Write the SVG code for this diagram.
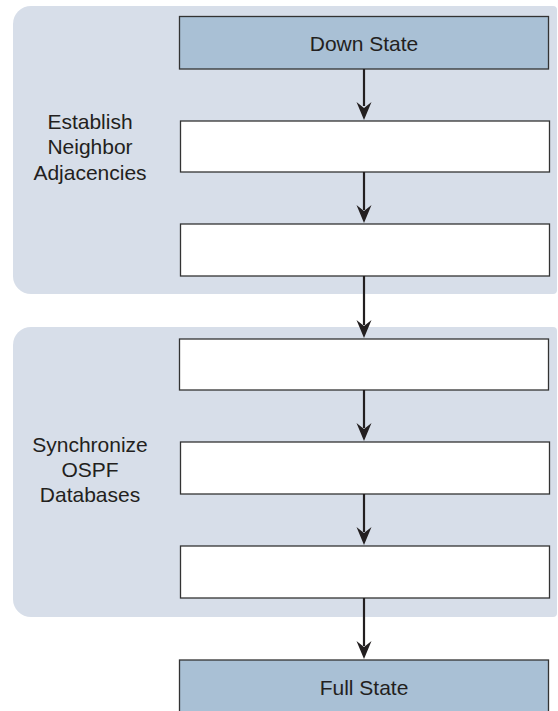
<svg xmlns="http://www.w3.org/2000/svg" width="558" height="711" viewBox="0 0 558 711">
  <style>
    .panel { fill: #d7dee9; }
    .state { fill: #a9c0d5; stroke: #333333; stroke-width: 1.3; }
    .step { fill: #ffffff; stroke: #333333; stroke-width: 1.3; }
    .label { font-family: "Liberation Sans", Arial, sans-serif; font-size: 21px; fill: #231f20; text-anchor: middle; }
    .shaft { stroke: #231f20; stroke-width: 2.2; fill: none; }
    .head { fill: #231f20; }
  </style>
  <defs>
    <!-- notched arrowhead, tip at origin pointing down -->
    <path id="arrowhead" class="head" d="M0,0 L-7.5,-18 L0,-12 L7.5,-18 Z"/>
  </defs>

  <!-- phase panels -->
  <g id="phase-adjacency">
    <path class="panel" d="M31,6 H553 A4,4 0 0 1 557,10 V290 A4,4 0 0 1 553,294 H31 A18,18 0 0 1 13,276 V24 A18,18 0 0 1 31,6 Z"/>
    <text class="label" x="90" y="128.5">Establish</text>
    <text class="label" x="90" y="154">Neighbor</text>
    <text class="label" x="90" y="179.5">Adjacencies</text>
  </g>
  <g id="phase-sync">
    <path class="panel" d="M31,327 H553 A4,4 0 0 1 557,331 V613 A4,4 0 0 1 553,617 H31 A18,18 0 0 1 13,599 V345 A18,18 0 0 1 31,327 Z"/>
    <text class="label" x="90" y="452">Synchronize</text>
    <text class="label" x="90" y="477">OSPF</text>
    <text class="label" x="90" y="502">Databases</text>
  </g>

  <!-- state boxes -->
  <g id="down-state">
    <rect class="state" x="179.5" y="16.5" width="369" height="52.5"/>
    <text class="label" x="364" y="50.5">Down State</text>
  </g>
  <g id="step-1"><rect class="step" x="180.5" y="121" width="369" height="51"/></g>
  <g id="step-2"><rect class="step" x="180.5" y="224" width="369" height="52"/></g>
  <g id="step-3"><rect class="step" x="179.5" y="339" width="369" height="51"/></g>
  <g id="step-4"><rect class="step" x="180.5" y="442" width="369" height="52"/></g>
  <g id="step-5"><rect class="step" x="180.5" y="546" width="369" height="52"/></g>
  <g id="full-state">
    <rect class="state" x="179.5" y="660" width="369" height="56"/>
    <text class="label" x="364" y="695">Full State</text>
  </g>

  <!-- connectors -->
  <g id="connectors">
    <line class="shaft" x1="364" y1="69" x2="364" y2="106"/>
    <use href="#arrowhead" x="364" y="120"/>
    <line class="shaft" x1="364" y1="172" x2="364" y2="210"/>
    <use href="#arrowhead" x="364" y="223"/>
    <line class="shaft" x1="364" y1="276" x2="364" y2="325"/>
    <use href="#arrowhead" x="364" y="338"/>
    <line class="shaft" x1="364" y1="390" x2="364" y2="428"/>
    <use href="#arrowhead" x="364" y="441"/>
    <line class="shaft" x1="364" y1="494" x2="364" y2="532"/>
    <use href="#arrowhead" x="364" y="545"/>
    <line class="shaft" x1="364" y1="598" x2="364" y2="646"/>
    <use href="#arrowhead" x="364" y="659"/>
  </g>
</svg>
